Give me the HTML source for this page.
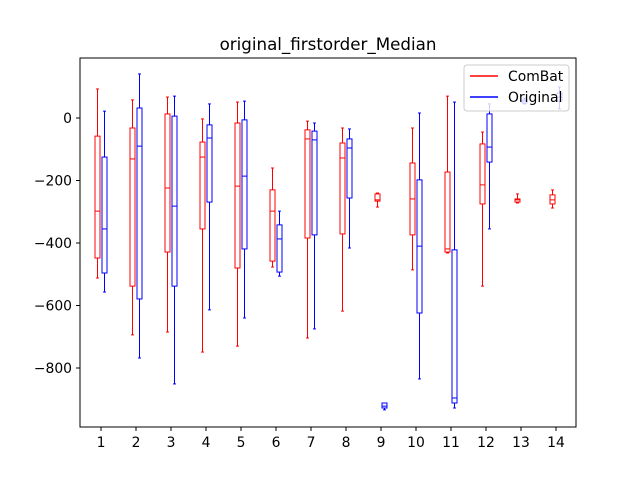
<!DOCTYPE html>
<html><head><meta charset="utf-8"><style>
body{margin:0;background:#fff}
svg{font-family:"DejaVu Sans","Liberation Sans",sans-serif}
</style></head><body>
<svg id="chart" width="640" height="480">
<rect width="640" height="480" fill="#fff"/>
<text x="328" y="50" font-size="16.7" text-anchor="middle">original_firstorder_Median</text>
<g id="marks"></g>
<g id="axes"></g>
<rect x="80" y="58" width="496" height="369" fill="none" stroke="#000" stroke-width="1"/>
<g>
<rect x="464" y="65" width="105" height="46" rx="3" fill="#fff" fill-opacity="0.8" stroke="#ccc"/>
<line x1="470" y1="76" x2="498" y2="76" stroke="red" stroke-width="1.5"/>
<text x="508" y="81" font-size="13.9">ComBat</text>
<line x1="470" y1="97" x2="498" y2="97" stroke="blue" stroke-width="1.5"/>
<text x="508" y="102" font-size="13.9">Original</text>
</g>
</svg>
<script>
const categories=[1,2,3,4,5,6,7,8,9,10,11,12,13,14];
const yTicks=[0,-200,-400,-600,-800];
// [low, q1, median, q3, high]
const combat=[[-512,-448,-298,-58,93],[-694,-538,-131,-32,58],[-685,-429,-224,13,67],[-749,-355,-125,-77,-3],[-730,-480,-218,-16,51],[-477,-458,-298,-230,-160],[-704,-384,-67,-38,-10],[-618,-371,-128,-80,-32],[-285,-266,-262,-243,-240],[-486,-374,-259,-144,-32],[-432,-429,-419,-173,70],[-538,-275,-214,-83,-45],[-272,-269,-262,-259,-243],[-288,-275,-262,-246,-230]];
const original=[[-557,-496,-355,-125,22],[-768,-579,-90,32,141],[-851,-538,-282,6,70],[-614,-269,-64,-22,45],[-640,-419,-186,-6,54],[-506,-493,-387,-342,-298],[-675,-374,-70,-42,-16],[-416,-256,-96,-67,-35],[-934,-928,-922,-912,-912],[-835,-624,-410,-198,16],[-928,-912,-896,-422,51],[-355,-141,-93,13,45],[45,48,54,58,64],[29,54,67,80,99]];
const NS="http://www.w3.org/2000/svg";
const yS=v=>118-v*0.3125;
const xS=c=>101+(c-1)*35;
const marks=document.getElementById('marks'),axes=document.getElementById('axes');
function mk(p,tag,at){const e=document.createElementNS(NS,tag);for(const k in at)e.setAttribute(k,at[k]);p.appendChild(e);return e;}
function box(d,cx,col,name){
 const g=mk(marks,'g',{stroke:col,'stroke-width':1,fill:'none'});
 
 
 const [lo,q1,md,q3,hi]=d;
 mk(g,'line',{x1:cx,x2:cx,y1:yS(lo),y2:yS(q1)});
 mk(g,'line',{x1:cx,x2:cx,y1:yS(q3),y2:yS(hi)});
 mk(g,'line',{x1:cx-1.5,x2:cx+1.5,y1:yS(lo),y2:yS(lo)});
 mk(g,'line',{x1:cx-1.5,x2:cx+1.5,y1:yS(hi),y2:yS(hi)});
 mk(g,'rect',{x:cx-2.5,y:yS(q3),width:5,height:Math.max(yS(q1)-yS(q3),0.5)});
 mk(g,'line',{x1:cx-2.5,x2:cx+2.5,y1:yS(md),y2:yS(md)});
}
categories.forEach((c,i)=>{
 box(combat[i],xS(c)-3.5,'red','combat-box-'+c);
 box(original[i],xS(c)+3.5,'blue','original-box-'+c);
 const t=mk(axes,'line',{x1:xS(c),x2:xS(c),y1:427,y2:431,stroke:'#000'});
 
 
 const l=mk(axes,'text',{x:xS(c),y:447,'font-size':13.9,'text-anchor':'middle'});
 l.textContent=c;
 
 
});
yTicks.forEach(v=>{
 const t=mk(axes,'line',{x1:76,x2:80,y1:yS(v),y2:yS(v),stroke:'#000'});
 
 
 const l=mk(axes,'text',{x:72,y:yS(v)+5,'font-size':13.9,'text-anchor':'end'});
 l.textContent=v<0?'\u2212'+(-v):v;
 
 
});
</script>
</body></html>
